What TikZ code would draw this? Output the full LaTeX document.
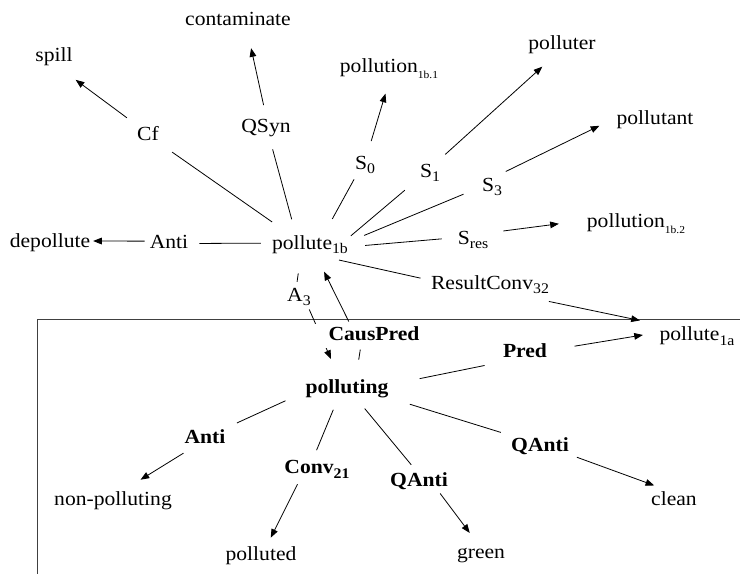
\documentclass[tikz,border=0pt]{standalone}
\usepackage{fontspec}
\setmainfont{Liberation Serif}[FakeStretch=1.08]
\usetikzlibrary{arrows.meta}
\pgfdeclarelayer{bg}
\pgfsetlayers{bg,main}
% lowered index set in a smaller size
\newcommand{\lo}[1]{\raisebox{-3pt}{\fontsize{11}{11}\selectfont #1}}
\newcommand{\tinylo}[1]{\raisebox{-4.5pt}{\fontsize{8}{8}\selectfont #1}}
\begin{document}
\begin{tikzpicture}[x=0.75pt, y=-0.75pt,
  font=\fontsize{15}{18}\selectfont,
  lbl/.style={anchor=base, inner sep=2pt, text height=10.5pt, text depth=3.4pt},
  bd/.style={lbl, font=\fontsize{15}{18}\selectfont\bfseries},
  ln/.style={line width=0.6pt, black},
  arr/.style={ln, -{Triangle[length=6.5pt, width=5pt]}},
  frame/.style={line width=0.7pt, black!75}]
\useasboundingbox (0,0) rectangle (740,574);

% upper cluster around pollute_1b
\node[lbl] (spill) at (54,62) {spill};
\node[lbl] (contam) at (238,26) {contaminate};
\node[lbl] (cf) at (148,141) {Cf};
\node[lbl] (qsyn) at (266,133) {QSyn};
\node[lbl] (depol) at (50,248) {depollute};
\node[lbl] (antiA) at (169,249) {Anti};
\node[lbl] (p1b) at (310,250) {pollute\lo{1b}};
\node[lbl] (s0) at (365,170) {S\lo{0}};
\node[lbl] (pn1) at (389,73) {pollution\tinylo{1b.1}};
\node[lbl] (s1) at (430,178) {S\lo{1}};
\node[lbl] (polluter) at (562,50) {polluter};
\node[lbl] (s3) at (492,192) {S\lo{3}};
\node[lbl] (pollutant) at (655,125) {pollutant};
\node[lbl] (sres) at (473,245) {S\lo{res}};
\node[lbl] (pn2) at (636,228) {pollution\tinylo{1b.2}};
\node[lbl] (rc) at (490,290) {ResultConv\lo{32}};
\node[lbl] (p1a) at (697,341) {pollute\lo{1a}};
\node[lbl] (a3) at (299,302) {A\lo{3}};

% lower cluster around polluting
\node[bd, fill=white, inner xsep=12.75pt] (caus) at (374,341) {CausPred};
\node[bd] (polluting) at (347,393) {polluting};
\node[bd] (antiB) at (205,444) {Anti};
\node[lbl] (nonp) at (113,505) {non-polluting};
\node[bd] (conv) at (317,474) {Conv\lo{21}};
\node[lbl] (polluted) at (261,560) {polluted};
\node[bd] (qanti1) at (419,486) {QAnti};
\node[lbl] (green) at (481,558) {green};
\node[bd] (pred) at (525,358) {Pred};
\node[bd] (qanti2) at (540,451) {QAnti};
\node[lbl] (clean) at (674,505) {clean};

\begin{pgfonlayer}{bg}
% frame of the lower part
\draw[frame] (37,574) -- (37,319) -- (740,319);

\draw[arr, shorten <=7.9pt, shorten >=13.1pt] (cf.136) -- (spill.-58);
\draw[ln, shorten <=14.5pt, shorten >=9.5pt] (p1b.151) -- (cf.-32);
\draw[arr, shorten <=8.4pt, shorten >=11.3pt] (qsyn.90) -- (contam.-51);
\draw[ln, shorten <=10.7pt, shorten >=6.9pt] (p1b.140) -- (qsyn.-71);
\draw[arr, shorten <=1.7pt] (antiA.172) -- (depol.3);
\draw[ln, shorten <=6.3pt, shorten >=6.2pt] (p1b.177) -- (antiA.2);
\draw[ln, shorten <=12.1pt, shorten >=1.6pt] (p1b.40) -- (s0.-129);
\draw[arr, shorten <=9.4pt, shorten >=10.3pt] (s0.78) -- (pn1.-88);
\draw[ln, shorten >=12.1pt] (p1b.13) -- (s1.-153);
\draw[arr, shorten <=7.4pt, shorten >=10.3pt] (s1.57) -- (polluter.-128);
\draw[ln, shorten <=10.8pt, shorten >=12.6pt] (p1b.6) -- (s3.-178);
\draw[arr, shorten <=6.1pt, shorten >=11.9pt] (s3.62) -- (pollutant.178);
\draw[ln, shorten <=10.7pt, shorten >=10pt] (p1b.-2) -- (sres.172);
\draw[arr, shorten <=9.2pt, shorten >=19pt] (sres.23) -- (pn2.177);
\draw[ln, shorten <=8.9pt, shorten >=5.9pt] (p1b.-35) -- (rc.175);
\draw[arr, shorten <=14.5pt, shorten >=13.2pt] (rc.-17) -- (p1a.163);
\draw[ln, shorten <=12.1pt, shorten >=2.5pt] (p1b.-128) -- (a3.101);
\draw[arr, shorten >=14pt] (a3.-50) -- (polluting.125);
\draw[arr, shorten <=2.1pt, shorten >=11.9pt] (caus.153) -- (p1b.-60);
\draw[ln, shorten <=0.8pt, shorten >=12.4pt] (caus.-138) -- (polluting.53);
\draw[ln, shorten <=14.2pt, shorten >=7.4pt] (polluting.-174) -- (antiB.28);
\draw[arr, shorten <=2.4pt, shorten >=11.9pt] (antiB.-147) -- (nonp.41);
\draw[ln, shorten <=7.5pt, shorten >=5.6pt] (polluting.-129) -- (conv.105);
\draw[arr, shorten <=2.3pt, shorten >=4.5pt] (conv.-146) -- (polluted.60);
\draw[ln, shorten <=7.9pt, shorten >=4.2pt] (polluting.-48) -- (qanti1.109);
\draw[arr, shorten >=7.6pt] (qanti1.-30) -- (green.113);
\draw[ln, shorten <=21.7pt, shorten >=11.8pt] (polluting.5) -- (pred.-160);
\draw[arr, shorten <=18.8pt, shorten >=10.4pt] (pred.7) -- (p1a.175);
\draw[ln, shorten <=14.5pt, shorten >=5.8pt] (polluting.-13) -- (qanti2.160);
\draw[arr, shorten <=4.1pt, shorten >=5.7pt] (qanti2.-16) -- (clean.136);
\end{pgfonlayer}
\end{tikzpicture}
\end{document}
